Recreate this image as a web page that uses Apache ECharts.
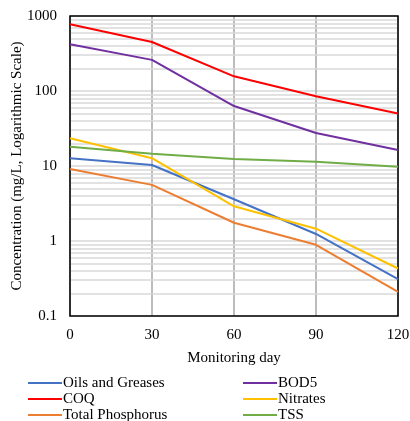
<!DOCTYPE html>
<html>
<head>
<meta charset="utf-8">
<script src="https://cdn.jsdelivr.net/npm/echarts@6/dist/echarts.min.js"></script>
<style>
  html, body { margin: 0; padding: 0; background: #fff; }
  #chart { width: 410px; height: 421px; }
</style>
</head>
<body>
<div id="chart"></div>
<script>
// DATA
var days = [0, 30, 60, 90, 120];
var oils = [12.7, 10.3, 3.6, 1.24, 0.31];
var bod5 = [420, 260, 63, 27.5, 16.3];
var coq = [775, 450, 157, 85, 50];
var nitrates = [23.4, 12.7, 2.9, 1.46, 0.43];
var phosphorus = [9.1, 5.6, 1.75, 0.89, 0.21];
var tss = [18.1, 14.6, 12.4, 11.4, 9.8];
var minorLines = [0.2, 0.3, 0.4, 0.5, 0.6, 0.7, 0.8, 0.9, 2, 3, 4, 5, 6, 7, 8, 9,
  20, 30, 40, 50, 60, 70, 80, 90, 200, 300, 400, 500, 600, 700, 800, 900];

var font = '"Liberation Serif", "Times New Roman", serif';

function pairs(vals) {
  return days.map(function (d, i) { return [d, vals[i]]; });
}

function lineSeries(name, vals, color) {
  return {
    name: name,
    type: 'line',
    data: pairs(vals),
    color: color,
    symbol: 'none',
    lineStyle: { width: 2, color: color },
    z: 10
  };
}

var chart = echarts.init(document.getElementById('chart'));

var series = [
  lineSeries('Oils and Greases', oils, '#4472C4'),
  lineSeries('BOD5', bod5, '#7030A0'),
  lineSeries('COQ', coq, '#FF0000'),
  lineSeries('Nitrates', nitrates, '#FFC000'),
  lineSeries('Total Phosphorus', phosphorus, '#ED7D31'),
  lineSeries('TSS', tss, '#70AD47'),
  {
    // minor log gridlines
    name: 'minor',
    type: 'line',
    data: [],
    silent: true,
    z: 0,
    markLine: {
      silent: true,
      symbol: 'none',
      z: 0,
      label: { show: false },
      lineStyle: { color: '#d9d9d9', width: 1.5, type: 'solid' },
      animation: false,
      data: minorLines.map(function (v) { return { yAxis: v }; })
    }
  }
];

var legendCommon = {
  orient: 'vertical',
  top: 375,
  height: 60,
  icon: 'rect',
  itemWidth: 34,
  itemHeight: 2,
  itemGap: 0,
  textStyle: { fontFamily: font, fontSize: 15, lineHeight: 16, color: '#000', padding: [0, 0, 0, -4] },
  padding: 0
};

var option = {
  animation: false,
  textStyle: { fontFamily: font },
  legend: [
    Object.assign({ left: 28, data: ['Oils and Greases', 'COQ', 'Total Phosphorus'] }, legendCommon),
    Object.assign({ left: 243, data: ['BOD5', 'Nitrates', 'TSS'] }, legendCommon)
  ],
  grid: {
    left: 70,
    right: 12,
    top: 16,
    bottom: 105,
    outerBoundsMode: 'none',
    containLabel: false,
    show: true,
    borderColor: '#000',
    borderWidth: 1.5,
    z: 5
  },
  xAxis: {
    type: 'value',
    min: 0,
    max: 120,
    interval: 30,
    name: 'Monitoring day',
    nameLocation: 'middle',
    nameGap: 35,
    nameMoveOverlap: false,
    nameTextStyle: { fontFamily: font, fontSize: 15, color: '#000' },
    axisLine: { show: false },
    axisTick: { show: false },
    axisLabel: { fontFamily: font, fontSize: 15, color: '#000', margin: 12 },
    splitLine: { show: true, lineStyle: { color: '#a6a6a6', width: 1.5 } }
  },
  yAxis: {
    type: 'log',
    logBase: 10,
    min: 0.1,
    max: 1000,
    name: 'Concentration (mg/L, Logarithmic Scale)',
    nameLocation: 'middle',
    nameGap: 45,
    nameMoveOverlap: false,
    nameTextStyle: { fontFamily: font, fontSize: 15, color: '#000' },
    axisLine: { show: false },
    axisTick: { show: false },
    axisLabel: {
      fontFamily: font, fontSize: 15, color: '#000', margin: 13,
      formatter: function (v) { return String(v); }
    },
    splitLine: { show: true, lineStyle: { color: '#d9d9d9', width: 1.5 } }
  },
  series: series
};

chart.setOption(option);
</script>
</body>
</html>
